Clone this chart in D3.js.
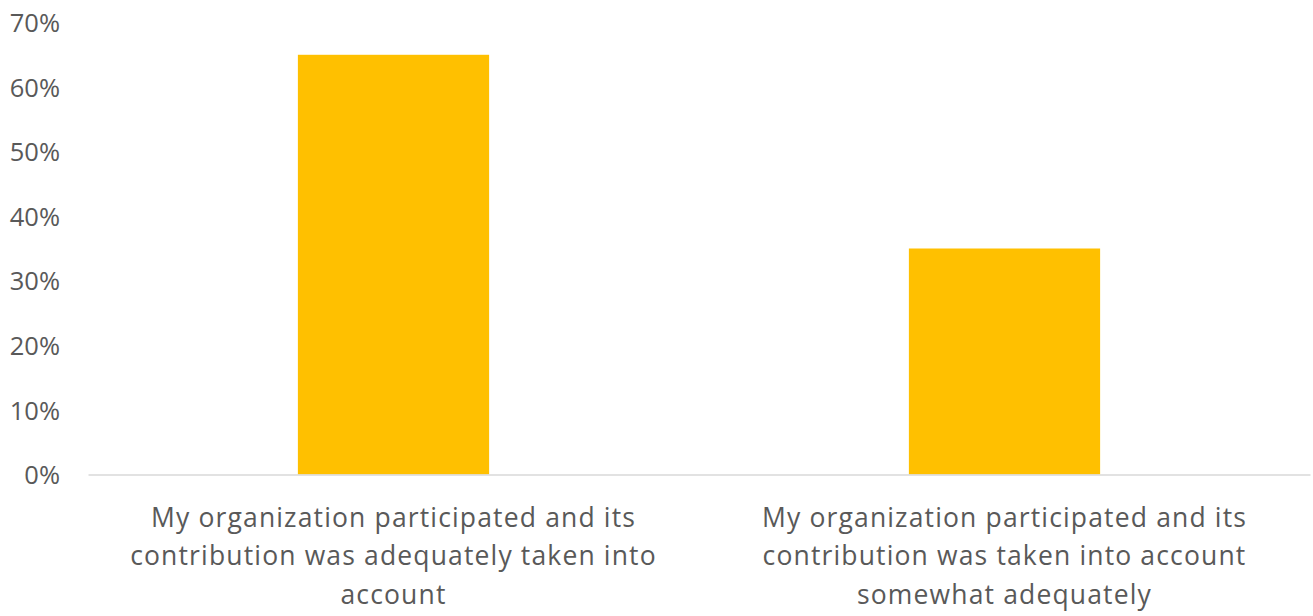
<!DOCTYPE html>
<html>
<head>
<meta charset="utf-8">
<script src="https://cdn.jsdelivr.net/npm/d3@7"></script>
<style>
  html, body { margin: 0; padding: 0; background: #fff; }
  svg { display: block; }
  text { font-family: "Open Sans", sans-serif; fill: #595959; }
</style>
</head>
<body>
<svg id="chart" width="1313" height="616"></svg>
<script>
const categories = [
  "My organization participated and its contribution was adequately taken into account",
  "My organization participated and its contribution was taken into account somewhat adequately"
];
const categoryLines = [
  ["My organization participated and its", "contribution was adequately taken into", "account"],
  ["My organization participated and its", "contribution was taken into account", "somewhat adequately"]
];
const values = [0.65, 0.35];
const yTicks = [0, 0.1, 0.2, 0.3, 0.4, 0.5, 0.6, 0.7];

const W = 1313, H = 616;
const FONT = "'Open Sans', sans-serif";
const FS = 25.5;
const FS_CAT = 26.5;
const margin = { left: 88, right: 3, top: 22.5, bottom: 616 - 474.5 };
const svg = d3.select("#chart");

const x = d3.scaleBand()
  .domain(categories)
  .range([margin.left, W - margin.right])
  .paddingInner(0.687)
  .paddingOuter(0.3435);

const y = d3.scaleLinear()
  .domain([0, 0.7])
  .range([H - margin.bottom, margin.top]);

// Y axis labels
const yAxis = d3.axisLeft(y)
  .tickValues(yTicks)
  .tickFormat(d3.format(".0%"))
  .tickSize(0)
  .tickPadding(0);
const gy = svg.append("g")
  .attr("transform", "translate(60,0)")
  .call(yAxis);
gy.select(".domain").remove();
gy.selectAll("text")
  .attr("font-size", FS)
  .attr("font-family", FONT)
  .attr("fill", "#595959")
  .attr("dy", "0.36em");

// Bars
svg.append("g").selectAll("rect")
  .data(values)
  .join("rect")
  .attr("x", (d, i) => x(categories[i]))
  .attr("width", x.bandwidth())
  .attr("y", d => y(d))
  .attr("height", d => y(0) - y(d))
  .attr("fill", "#FFC000");

// X axis line
const xAxis = d3.axisBottom(x).tickSize(0).tickFormat("");
const gx = svg.append("g")
  .attr("transform", `translate(0,${y(0)})`)
  .call(xAxis);
gx.select(".domain")
  .attr("stroke", "#D9D9D9")
  .attr("stroke-width", 1.5);

// Category labels
const labels = svg.append("g").selectAll("text")
  .data(categories)
  .join("text")
  .attr("text-anchor", "middle")
  .attr("font-size", FS_CAT)
  .attr("font-family", FONT)
  .attr("letter-spacing", "1.15px")
  .attr("x", d => x(d) + x.bandwidth() / 2)
  .attr("y", 527);
labels.each(function(d, i) {
  d3.select(this).selectAll("tspan")
    .data(categoryLines[i])
    .join("tspan")
    .attr("x", x(d) + x.bandwidth() / 2)
    .attr("dy", (t, j) => j === 0 ? 0 : 38.4)
    .text(t => t);
});
</script>
</body>
</html>
